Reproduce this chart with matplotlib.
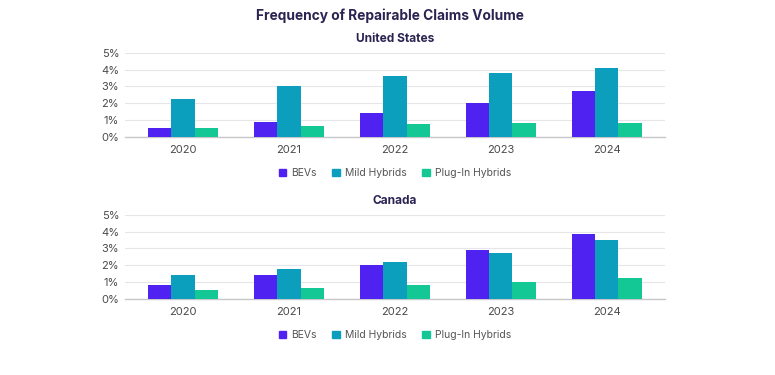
import matplotlib
matplotlib.use("Agg")
import matplotlib.pyplot as plt
import numpy as np
from matplotlib.patches import Patch

plt.rcParams['font.family'] = ['Inter', 'DejaVu Sans']

years = ["2020", "2021", "2022", "2023", "2024"]
series = ["BEVs", "Mild Hybrids", "Plug-In Hybrids"]
colors = ["#4F22F2", "#0C9FBD", "#14C896"]

us_bevs = [0.50, 0.90, 1.40, 2.00, 2.72]
us_mild = [2.25, 3.00, 3.60, 3.80, 4.08]
us_plug = [0.55, 0.65, 0.75, 0.80, 0.85]

ca_bevs = [0.85, 1.40, 2.00, 2.88, 3.85]
ca_mild = [1.45, 1.80, 2.18, 2.75, 3.48]
ca_plug = [0.55, 0.65, 0.85, 1.00, 1.22]

yticks = [0, 1, 2, 3, 4, 5]
ytick_labels = ["0%", "1%", "2%", "3%", "4%", "5%"]

fig = plt.figure(figsize=(7.75, 3.75), dpi=100)
fig.text(0.503, 0.957, "Frequency of Repairable Claims Volume", ha="center", va="center",
         fontsize=9.9, fontweight="bold", color="#2B2452")

def draw(ax, vals, title):
    x = np.arange(len(years))
    w = 0.22
    for i, (v, c) in enumerate(zip(vals, colors)):
        ax.bar(x + (i - 1) * w, v, width=w, color=c, zorder=3)
    ax.set_xlim(-0.55, len(years) - 0.45)
    ax.set_ylim(0, 5)
    ax.set_yticks(yticks)
    ax.set_yticklabels(ytick_labels)
    ax.set_xticks(x)
    ax.set_xticklabels(years)
    ax.grid(axis="y", color="#E6E6EA", linewidth=0.8, zorder=0)
    for s in ["top", "right", "left"]:
        ax.spines[s].set_visible(False)
    ax.spines["bottom"].set_color("#C8C8CC")
    ax.spines["bottom"].set_linewidth(1.0)
    ax.tick_params(axis="both", length=0, labelsize=8, labelcolor="#4A4A4A")
    ax.tick_params(axis="y", pad=4)
    ax.tick_params(axis="x", pad=6)
    ax.set_title(title, fontsize=8.6, fontweight="bold", color="#2B2452", pad=8)
    handles = [Patch(color=c, label=s) for s, c in zip(series, colors)]
    ax.legend(handles=handles, loc="upper center", bbox_to_anchor=(0.5, -0.26), ncol=3,
              frameon=False, fontsize=7.5, handlelength=0.7, handleheight=0.7,
              handletextpad=0.5, columnspacing=1.5, labelcolor="#555555")

ax1 = fig.add_axes([0.161, 0.635, 0.697, 0.224])
draw(ax1, [us_bevs, us_mild, us_plug], "United States")
ax2 = fig.add_axes([0.161, 0.203, 0.697, 0.224])
draw(ax2, [ca_bevs, ca_mild, ca_plug], "Canada")

fig.savefig("out.png", dpi=100, facecolor="white")
